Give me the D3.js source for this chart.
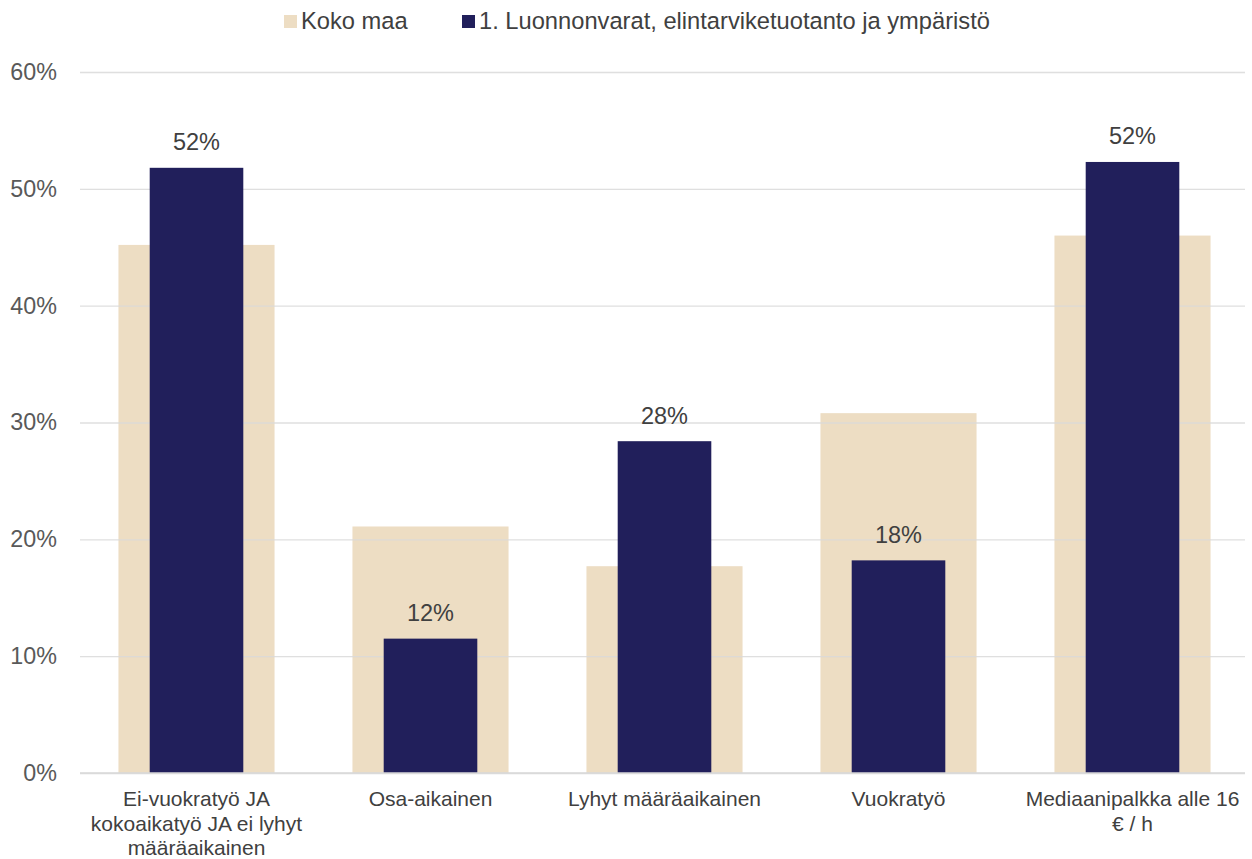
<!DOCTYPE html>
<html>
<head>
<meta charset="utf-8">
<script src="https://cdn.jsdelivr.net/npm/d3@7"></script>
<style>
  html, body { margin: 0; padding: 0; background: #fff; }
  text { font-family: "Liberation Sans", Arial, sans-serif; }
</style>
</head>
<body>
<svg id="chart" width="1252" height="859"></svg>
<script>
const categories = [
  "Ei-vuokratyö JA\nkokoaikatyö JA ei lyhyt\nmääräaikainen",
  "Osa-aikainen",
  "Lyhyt määräaikainen",
  "Vuokratyö",
  "Mediaanipalkka alle 16\n€ / h"
];
const seriesNames = ["Koko maa", "1. Luonnonvarat, elintarviketuotanto ja ympäristö"];
const kokoMaa = [45.2, 21.1, 17.7, 30.8, 46.0];
const luonnonvarat = [51.8, 11.5, 28.4, 18.2, 52.3];
const yTicks = [0, 10, 20, 30, 40, 50, 60];
const colors = ["#EDDDC3", "#211F5B"];

const svg = d3.select("#chart");
const W = 1252, H = 859;
const x0 = 80, x1 = 1245;
const yTop = 72, yBot = 773;

const x = d3.scaleBand().domain(d3.range(categories.length)).range([79.5, 1249.5]).paddingInner(0).paddingOuter(0);
const y = d3.scaleLinear().domain([0, 60]).range([yBot, yTop]);

const wideW = x.bandwidth() * 0.667;
const narrowW = x.bandwidth() * 0.40;

// beige bars
svg.append("g").selectAll("rect").data(kokoMaa).join("rect")
  .attr("x", (d, i) => x(i) + (x.bandwidth() - wideW) / 2)
  .attr("width", wideW)
  .attr("y", d => y(d))
  .attr("height", d => y(0) - y(d))
  .attr("fill", colors[0]);

// gridlines
const grid = svg.append("g").attr("transform", `translate(${x0},0)`)
  .call(d3.axisLeft(y).tickValues(yTicks).tickSize(-(x1 - x0)).tickFormat(""));
grid.select(".domain").remove();
grid.selectAll("line").attr("stroke", "#d9d9d9").attr("stroke-width", 1.3).attr("stroke-opacity", 0.85);

// dark bars
svg.append("g").selectAll("rect").data(luonnonvarat).join("rect")
  .attr("x", (d, i) => x(i) + (x.bandwidth() - narrowW) / 2)
  .attr("width", narrowW)
  .attr("y", d => y(d))
  .attr("height", d => y(0) - y(d))
  .attr("fill", colors[1]);

// zero line
svg.append("line").attr("x1", x0).attr("x2", x1).attr("y1", y(0)).attr("y2", y(0))
  .attr("stroke", "#d9d9d9").attr("stroke-width", 1.5);

// data labels
svg.append("g").selectAll("text").data(luonnonvarat).join("text")
  .attr("x", (d, i) => x(i) + x.bandwidth() / 2)
  .attr("y", d => y(d) - 17.5)
  .attr("text-anchor", "middle")
  .attr("font-size", 23.5)
  .attr("fill", "#404040")
  .text(d => Math.round(d) + "%");

// y axis labels
const yAxis = svg.append("g").attr("transform", `translate(${x0},0)`)
  .call(d3.axisLeft(y).tickValues(yTicks).tickSize(0).tickPadding(23).tickFormat(d => d + "%"));
yAxis.select(".domain").remove();
yAxis.selectAll("text").attr("font-size", 23.3).attr("fill", "#595959")
  .attr("font-family", "Liberation Sans, Arial, sans-serif");

// x axis labels
const xAxis = svg.append("g").attr("transform", `translate(0,${yBot})`)
  .call(d3.axisBottom(x).tickSize(0).tickFormat(""));
xAxis.select(".domain").remove();
xAxis.selectAll(".tick").each(function(d) {
  const lines = categories[d].split("\n");
  const t = d3.select(this).append("text")
    .attr("text-anchor", "middle")
    .attr("font-size", 21)
    .attr("fill", "#404040");
  lines.forEach((ln, k) => {
    t.append("tspan").attr("x", 0).attr("y", 33 + k * 24.5).text(ln);
  });
});

// legend
const legend = svg.append("g");
const legendX = [284, 462];
seriesNames.forEach((name, i) => {
  legend.append("rect").attr("x", legendX[i]).attr("y", 15).attr("width", 13).attr("height", 13).attr("fill", colors[i]);
  legend.append("text").attr("x", legendX[i] + 17).attr("y", 28.5).attr("font-size", 23.7).attr("fill", "#404040").text(name);
});
</script>
</body>
</html>
